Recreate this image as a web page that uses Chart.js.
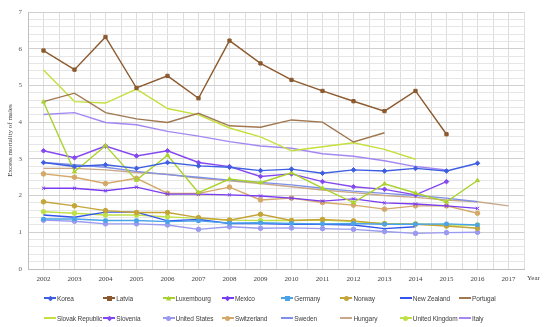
<!DOCTYPE html>
<html>
<head>
<meta charset="utf-8">
<script src="https://cdn.jsdelivr.net/npm/chart.js@4.4.1/dist/chart.umd.min.js"></script>
<style>
    html, body { margin: 0; padding: 0; background: #fff; }
    #wrap { position: relative; width: 550px; height: 327px; }
    #legend {
        position: absolute; left: 44px; top: 292px;
        display: grid; grid-template-columns: repeat(8, 59.3px); grid-auto-rows: 20px;
        font: 6.5px "Liberation Sans", sans-serif; letter-spacing: -0.1px; color: #404040;
    }
    .item { display: flex; align-items: center; height: 12px; white-space: nowrap; }
    .sw { position: relative; width: 12px; height: 8px; margin-right: 1px; flex: none; }
    .sw .ln { position: absolute; left: 0; right: 0; top: 3.3px; height: 1.4px; }
    .sw .mk { position: absolute; left: 3.5px; top: 1.5px; width: 5px; height: 5px; }
    .mk.circle { border-radius: 50%; }
    .mk.rectRot, .mk.crossRot { transform: rotate(45deg) scale(0.8); }
    .mk.triangle { clip-path: polygon(50% 0, 100% 100%, 0 100%); }
</style>
</head>
<body>
<div id="wrap">
    <canvas id="mortalityChart"></canvas>
    <div id="legend"></div>
</div>
<script>
// years on the x axis
const years = [2002, 2003, 2004, 2005, 2006, 2007, 2008, 2009, 2010, 2011, 2012, 2013, 2014, 2015, 2016, 2017];
const yTicks = [0, 1, 2, 3, 4, 5, 6, 7];

// values (null = no data)
const korea = [2.9, 2.79, 2.84, 2.74, 2.9, 2.81, 2.77, 2.68, 2.72, 2.61, 2.7, 2.67, 2.74, 2.67, 2.88, null];
const latvia = [5.95, 5.43, 6.32, 4.93, 5.26, 4.65, 6.22, 5.6, 5.15, 4.85, 4.57, 4.3, 4.85, 3.67, null, null];
const luxembourg = [4.55, 2.65, 3.36, 2.42, 3.1, 2.08, 2.45, 2.35, 2.62, 2.2, 1.81, 2.32, 2.07, 1.83, 2.41, null];
const mexico = [2.2, 2.2, 2.13, 2.23, 2.04, 2.04, 2.02, 1.99, 1.93, 1.85, 1.91, 1.8, 1.77, 1.72, 1.65, null];
const germany = [1.36, 1.36, 1.32, 1.32, 1.29, 1.31, 1.25, 1.26, 1.24, 1.23, 1.24, 1.22, 1.22, 1.23, 1.2, null];
const norway = [1.83, 1.72, 1.59, 1.54, 1.54, 1.4, 1.33, 1.49, 1.32, 1.35, 1.31, 1.23, 1.22, 1.17, 1.11, null];
const newZealand = [1.47, 1.41, 1.55, 1.55, 1.31, 1.35, 1.24, 1.24, 1.22, 1.22, 1.2, 1.1, 1.15, null, null, null];
const portugal = [4.56, 4.79, 4.26, 4.09, 3.99, 4.24, 3.9, 3.86, 4.06, 4.0, 3.46, 3.71, null, null, null, null];
const slovakRepublic = [5.42, 4.56, 4.52, 4.9, 4.37, 4.2, 3.84, 3.6, 3.22, 3.33, 3.44, 3.26, 2.99, null, null, null];
const slovenia = [3.22, 3.03, 3.35, 3.08, 3.22, 2.9, 2.79, 2.52, 2.59, 2.38, 2.24, 2.17, 2.02, 2.38, null, null];
const unitedStates = [1.33, 1.3, 1.23, 1.23, 1.2, 1.08, 1.15, 1.11, 1.12, 1.1, 1.08, 1.02, 0.97, 0.99, 1.0, null];
const switzerland = [2.59, 2.5, 2.33, 2.47, 2.06, 2.06, 2.23, 1.88, 1.93, 1.81, 1.74, 1.63, 1.72, 1.72, 1.52, null];
const sweden = [2.9, 2.84, 2.77, 2.66, 2.57, 2.5, 2.42, 2.36, 2.29, 2.2, 2.12, 2.06, 2.0, 1.93, 1.83, null];
const hungary = [2.74, 2.74, 2.7, 2.63, 2.58, 2.47, 2.4, 2.33, 2.24, 2.15, 2.08, 2.0, 1.95, 1.88, 1.83, 1.72];
const unitedKingdom = [1.56, 1.52, 1.47, 1.47, 1.42, 1.38, 1.33, 1.32, 1.32, 1.33, 1.29, 1.24, 1.23, 1.2, 1.2, null];
const italy = [4.21, 4.26, 3.99, 3.93, 3.75, 3.62, 3.47, 3.35, 3.29, 3.14, 3.07, 2.95, 2.79, 2.7, null, null];

function series(label, values, color, marker) {
    return {
        label: label,
        data: values.map((v, i) => ({ x: years[i], y: v })),
        borderColor: color,
        backgroundColor: color,
        borderWidth: 1.4,
        pointStyle: marker || "circle",
        pointRadius: marker ? 2.3 : 0,
        pointBorderWidth: 1,
        tension: 0,
        spanGaps: false,
        marker: marker,
    };
}

const datasets = [
    series("Korea", korea, "#3d5ee0", "rectRot"),
    series("Latvia", latvia, "#8c5a2e", "rect"),
    series("Luxembourg", luxembourg, "#a9d22c", "triangle"),
    series("Mexico", mexico, "#7a3cf0", "crossRot"),
    series("Germany", germany, "#4aa3e8", "rect"),
    series("Norway", norway, "#c4a53a", "circle"),
    series("New Zealand", newZealand, "#3355ee"),
    series("Portugal", portugal, "#a07850"),
    series("Slovak Republic", slovakRepublic, "#c3e03c"),
    series("Slovenia", slovenia, "#8448f0", "rectRot"),
    series("United States", unitedStates, "#9a9af0", "circle"),
    series("Switzerland", switzerland, "#d4a868", "circle"),
    series("Sweden", sweden, "#7f90e8"),
    series("Hungary", hungary, "#c8a888"),
    series("United Kingdom", unitedKingdom, "#c0e048", "circle"),
    series("Italy", italy, "#a488f2"),
];

// "Year" sits to the right of the x axis
const yearLabel = {
    id: "yearLabel",
    afterDraw(chart) {
        const ctx = chart.ctx;
        ctx.save();
        ctx.font = '7px "Liberation Serif", serif';
        ctx.fillStyle = "#404040";
        ctx.textAlign = "left";
        ctx.textBaseline = "middle";
        ctx.fillText("Year", chart.chartArea.right + 3, chart.chartArea.bottom + 9);
        ctx.restore();
    },
};

const isWhole = (v) => Math.abs(v - Math.round(v)) < 1e-6;

new Chart(document.getElementById("mortalityChart"), {
    type: "line",
    data: { datasets: datasets },
    options: {
        responsive: true,
        maintainAspectRatio: false,
        animation: false,
        layout: { padding: { left: 0, top: 12, right: 26, bottom: 42 } },
        plugins: {
            legend: { display: false },
            tooltip: { enabled: false },
        },
        scales: {
            x: {
                type: "linear",
                min: years[0] - 0.5,
                max: years[years.length - 1] + 0.5,
                afterFit: (s) => { s.height = 16; },
                ticks: {
                    stepSize: 0.5,
                    autoSkip: false,
                    maxRotation: 0,
                    padding: 6,
                    color: "#404040",
                    font: { family: "Liberation Serif", size: 7 },
                    callback: (v) => (isWhole(v) && years.includes(Math.round(v)) ? String(Math.round(v)) : ""),
                },
                grid: { color: "#dedede", drawTicks: false, lineWidth: 1 },
                border: { color: "#bfbfbf" },
            },
            y: {
                min: yTicks[0],
                max: yTicks[yTicks.length - 1],
                afterFit: (s) => { s.width = 28; },
                ticks: {
                    stepSize: 0.2,
                    autoSkip: false,
                    padding: 6,
                    color: "#595959",
                    font: { family: "Liberation Serif", size: 7 },
                    callback: (v) => (isWhole(v) && yTicks.includes(Math.round(v)) ? String(Math.round(v)) : ""),
                },
                grid: {
                    drawTicks: false,
                    color: (c) => (isWhole(c.tick.value) ? "#d0d0d0" : "#e6e6e6"),
                },
                border: { color: "#bfbfbf" },
                title: {
                    display: true,
                    text: "Excess mortality of males",
                    color: "#404040",
                    font: { family: "Liberation Serif", size: 7 },
                    padding: { top: 6, bottom: 0 },
                },
            },
        },
    },
    plugins: [yearLabel],
});

// html legend laid out in fixed columns
const legend = document.getElementById("legend");
datasets.forEach((ds) => {
    const item = document.createElement("div");
    item.className = "item";
    const sw = document.createElement("span");
    sw.className = "sw";
    const ln = document.createElement("span");
    ln.className = "ln";
    ln.style.background = ds.borderColor;
    sw.appendChild(ln);
    if (ds.marker) {
        const mk = document.createElement("span");
        mk.className = "mk " + ds.marker;
        mk.style.background = ds.borderColor;
        sw.appendChild(mk);
    }
    item.appendChild(sw);
    item.appendChild(document.createTextNode(ds.label));
    legend.appendChild(item);
});
</script>
</body>
</html>
